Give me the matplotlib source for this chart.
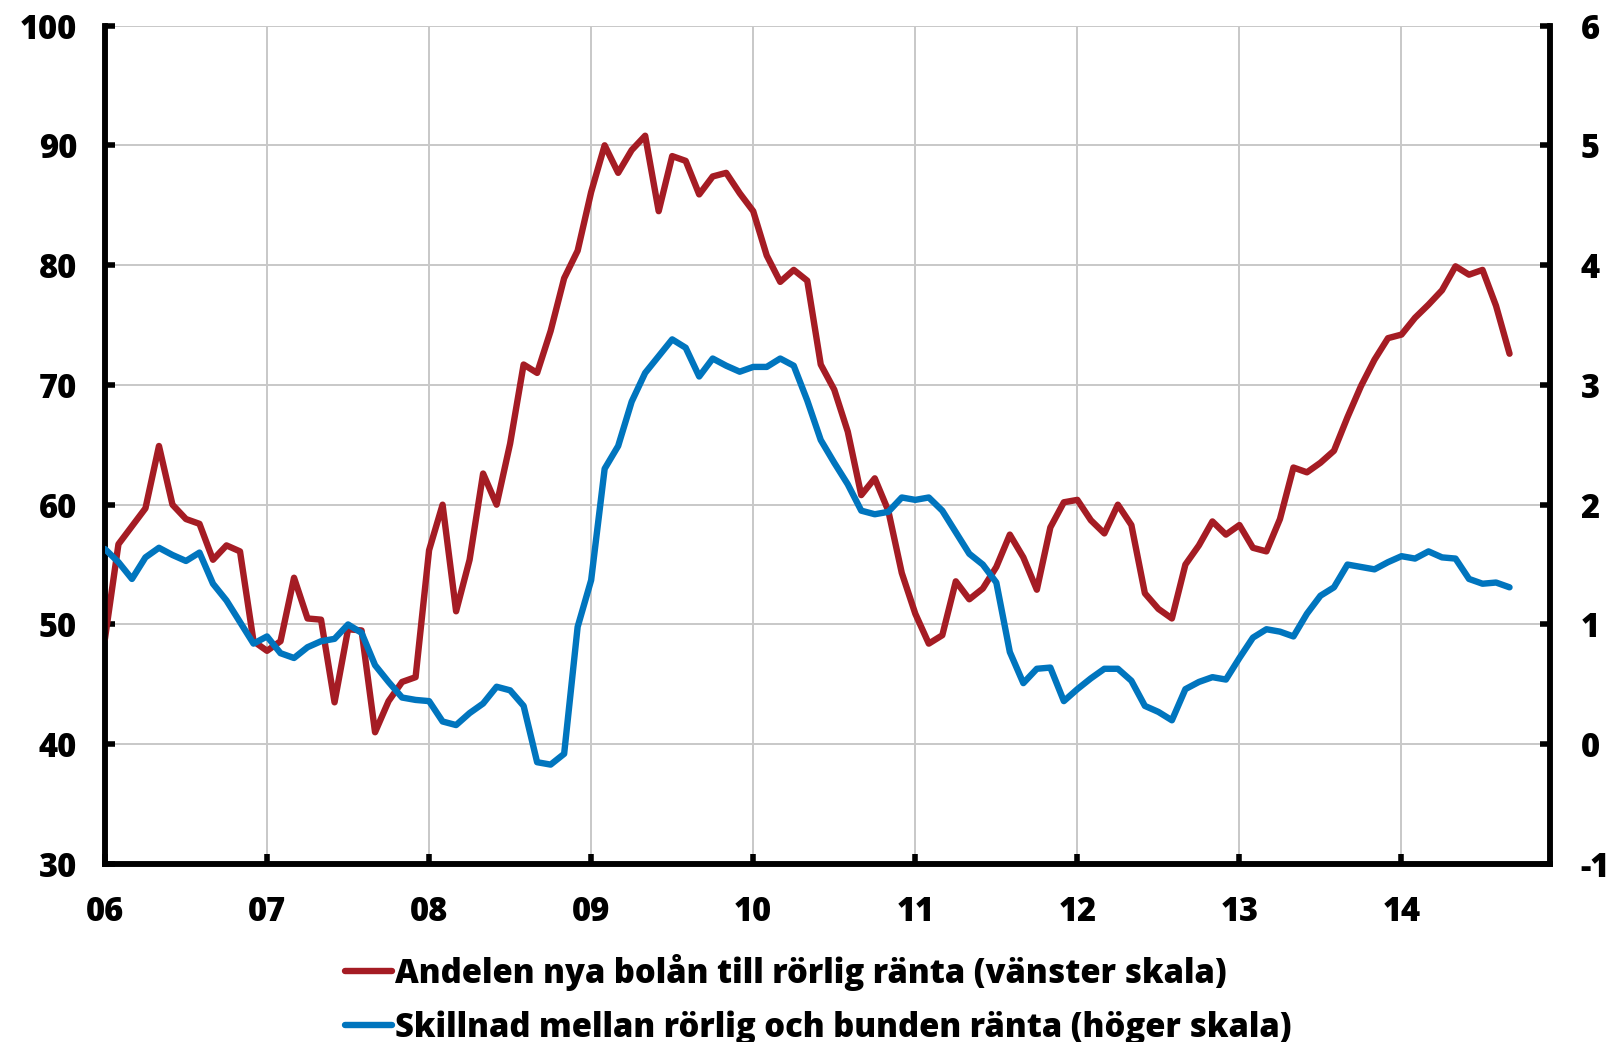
import matplotlib
matplotlib.use("Agg")
import matplotlib.pyplot as plt
import numpy as np

plt.rcParams['font.family'] = ['Open Sans', 'DejaVu Sans']
plt.rcParams['font.weight'] = 'heavy'
plt.rcParams['axes.unicode_minus'] = False

# Monthly observations, January 2006 onwards
share_variable = [
    48.8, 56.7, 58.2, 59.7, 64.9, 60.0, 58.8, 58.4, 55.4, 56.6, 56.1, 48.6,
    47.8, 48.6, 53.9, 50.5, 50.4, 43.5, 49.6, 49.5, 41.0, 43.6, 45.2, 45.6,
    56.2, 60.0, 51.1, 55.4, 62.6, 60.0, 65.1, 71.7, 71.0, 74.5, 78.9, 81.2,
    86.1, 90.0, 87.7, 89.6, 90.8, 84.5, 89.1, 88.7, 85.9, 87.4, 87.7, 86.0,
    84.5, 80.8, 78.6, 79.6, 78.7, 71.7, 69.6, 66.1, 60.8, 62.2, 59.5, 54.3,
    50.9, 48.4, 49.1, 53.6, 52.1, 53.0, 54.8, 57.5, 55.6, 52.9, 58.1, 60.2,
    60.4, 58.7, 57.6, 60.0, 58.3, 52.6, 51.3, 50.5, 55.0, 56.6, 58.6, 57.5,
    58.3, 56.4, 56.1, 58.8, 63.1, 62.7, 63.5, 64.5, 67.3, 69.9, 72.1, 73.9,
    74.2, 75.6, 76.7, 77.9, 79.9, 79.2, 79.6, 76.6, 72.6,
]

rate_spread = [
    1.63, 1.52, 1.38, 1.56, 1.64, 1.58, 1.53, 1.60, 1.34, 1.20, 1.02, 0.84,
    0.90, 0.76, 0.72, 0.81, 0.86, 0.88, 1.00, 0.93, 0.66, 0.52, 0.39, 0.37,
    0.36, 0.19, 0.16, 0.26, 0.34, 0.48, 0.45, 0.32, -0.15, -0.17, -0.08, 0.98,
    1.37, 2.30, 2.49, 2.86, 3.10, 3.24, 3.38, 3.31, 3.07, 3.22, 3.16, 3.11,
    3.15, 3.15, 3.22, 3.16, 2.87, 2.54, 2.35, 2.17, 1.95, 1.92, 1.94, 2.06,
    2.04, 2.06, 1.95, 1.77, 1.59, 1.50, 1.35, 0.77, 0.51, 0.63, 0.64, 0.36,
    0.46, 0.55, 0.63, 0.63, 0.53, 0.32, 0.27, 0.20, 0.46, 0.52, 0.56, 0.54,
    0.72, 0.89, 0.96, 0.94, 0.90, 1.09, 1.24, 1.31, 1.50, 1.48, 1.46, 1.52,
    1.57, 1.55, 1.61, 1.56, 1.55, 1.38, 1.34, 1.35, 1.31,
]

year_labels = ["06", "07", "08", "09", "10", "11", "12", "13", "14"]
left_ticks = [30, 40, 50, 60, 70, 80, 90, 100]
right_ticks = [-1, 0, 1, 2, 3, 4, 5, 6]

label_left = "Andelen nya bolån till rörlig ränta (vänster skala)"
label_right = "Skillnad mellan rörlig och bunden ränta (höger skala)"

RED = "#A51C24"
BLUE = "#0075BE"
GRID = "#C8C8C8"
FS = 23.5

fig = plt.figure(figsize=(16.17, 10.42), dpi=100)
ax = fig.add_axes([0.0649, 0.1708, 0.8937, 0.8047])
ax2 = ax.twinx()

months = np.arange(len(share_variable))
l1, = ax.plot(months, share_variable, color=RED, lw=4.6, solid_joinstyle='round',
              solid_capstyle='round', zorder=3)
l2, = ax2.plot(np.arange(len(rate_spread)), rate_spread, color=BLUE, lw=4.6,
               solid_joinstyle='round', solid_capstyle='round', zorder=3)

ax.set_xlim(0, 107)
ax.set_ylim(30, 100)
ax2.set_ylim(-1, 6)
ax.set_xticks(np.arange(len(year_labels)) * 12)
ax.set_xticklabels(year_labels)
ax.set_yticks(left_ticks)
ax2.set_yticks(right_ticks)

ax.grid(True, color=GRID, lw=1.4, zorder=0)
ax.set_axisbelow(True)

for a in (ax, ax2):
    a.spines['top'].set_visible(False)
    for s in ('left', 'right', 'bottom'):
        a.spines[s].set_linewidth(4)
        a.spines[s].set_color('black')
    a.tick_params(direction='in', length=7, width=4, labelsize=FS, pad=20)

ax.tick_params(axis='x', pad=22)
ax2.tick_params(axis='y', pad=22)
for lab in ax.get_xticklabels() + ax.get_yticklabels() + ax2.get_yticklabels():
    lab.set_fontweight('heavy')

fig.legend([l1, l2], [label_left, label_right], loc='lower center',
           bbox_to_anchor=(0.506, -0.031), frameon=False, ncol=1,
           prop={'size': 23.6, 'weight': 'heavy'}, handlelength=1.45,
           handletextpad=0.08, labelspacing=0.6)

fig.savefig("out.png", dpi=100)
